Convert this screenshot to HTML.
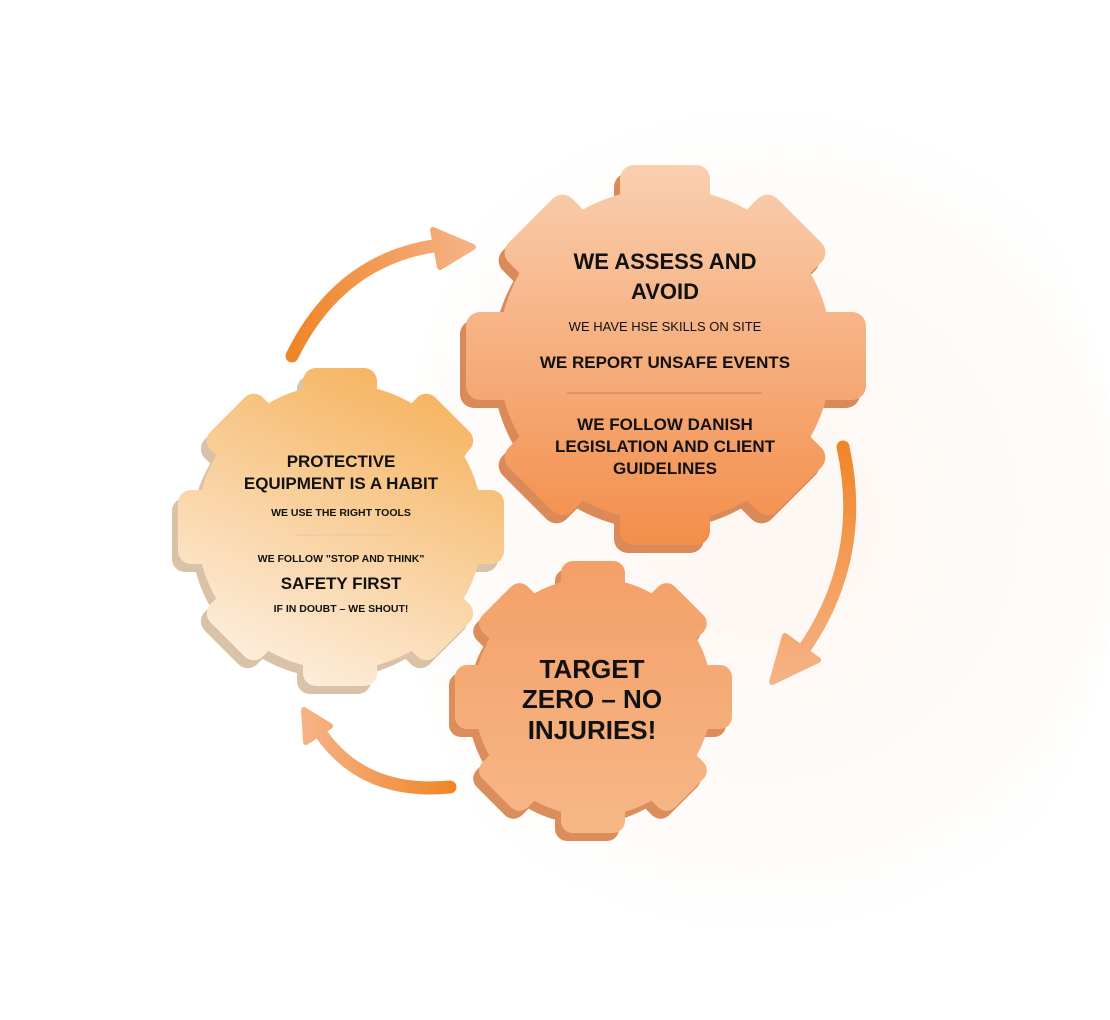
<!DOCTYPE html>
<html><head><meta charset="utf-8"><style>
html,body{margin:0;padding:0;background:#fff;}
svg{display:block}
text{font-family:"Liberation Sans",sans-serif;font-weight:bold;fill:#111;text-anchor:middle}
</style></head><body>
<svg width="1110" height="1020" viewBox="0 0 1110 1020">
<defs>
<radialGradient id="bg" cx="760" cy="520" r="420" gradientUnits="userSpaceOnUse">
<stop offset="0" stop-color="#fef7f2"/><stop offset="0.7" stop-color="#fefbf9"/><stop offset="1" stop-color="#ffffff"/></radialGradient>
<linearGradient id="g1" x1="0" y1="165" x2="0" y2="555" gradientUnits="userSpaceOnUse">
<stop offset="0" stop-color="#f9cfb0"/><stop offset="1" stop-color="#f38c48"/></linearGradient>
<linearGradient id="g2" x1="440" y1="380" x2="300" y2="690" gradientUnits="userSpaceOnUse">
<stop offset="0" stop-color="#f5b25c"/><stop offset="1" stop-color="#fdeedd"/></linearGradient>
<linearGradient id="g3" x1="0" y1="565" x2="0" y2="840" gradientUnits="userSpaceOnUse">
<stop offset="0" stop-color="#f4a068"/><stop offset="1" stop-color="#f6b888"/></linearGradient>
<linearGradient id="a1" x1="290" y1="0" x2="475" y2="0" gradientUnits="userSpaceOnUse">
<stop offset="0" stop-color="#ef8526"/><stop offset="1" stop-color="#f6b48a"/></linearGradient>
<linearGradient id="a2" x1="0" y1="440" x2="0" y2="690" gradientUnits="userSpaceOnUse">
<stop offset="0" stop-color="#ef8526"/><stop offset="1" stop-color="#f6b48a"/></linearGradient>
<linearGradient id="a3" x1="455" y1="0" x2="300" y2="0" gradientUnits="userSpaceOnUse">
<stop offset="0" stop-color="#ef8526"/><stop offset="1" stop-color="#f6b48a"/></linearGradient>

<g id="s1" fill="#fff">
<circle cx="665" cy="355" r="167"/>
<rect x="620" y="165" width="90" height="380" rx="14"/>
<rect x="620" y="165" width="90" height="380" rx="14" transform="rotate(45 665 355)"/>
<rect x="466" y="312" width="400" height="88" rx="14"/>
<rect x="620" y="165" width="90" height="380" rx="14" transform="rotate(135 665 355)"/>
</g>
<g id="s2" fill="#fff">
<circle cx="340" cy="527" r="143"/>
<rect x="303" y="368" width="74" height="318" rx="13"/>
<rect x="303" y="368" width="74" height="318" rx="13" transform="rotate(45 340 527)"/>
<rect x="178" y="490" width="326" height="74" rx="13"/>
<rect x="303" y="368" width="74" height="318" rx="13" transform="rotate(135 340 527)"/>
</g>
<g id="s3" fill="#fff">
<circle cx="593" cy="697" r="119"/>
<rect x="561" y="561" width="64" height="272" rx="12"/>
<rect x="561" y="561" width="64" height="272" rx="12" transform="rotate(45 593 697)"/>
<rect x="455" y="665" width="277" height="64" rx="12"/>
<rect x="561" y="561" width="64" height="272" rx="12" transform="rotate(135 593 697)"/>
</g>
<mask id="m1" maskUnits="userSpaceOnUse" x="0" y="0" width="1110" height="1020"><use href="#s1"/></mask>
<mask id="m2" maskUnits="userSpaceOnUse" x="0" y="0" width="1110" height="1020"><use href="#s2"/></mask>
<mask id="m3" maskUnits="userSpaceOnUse" x="0" y="0" width="1110" height="1020"><use href="#s3"/></mask>
</defs>
<rect width="1110" height="1020" fill="#fff"/>
<ellipse cx="760" cy="520" rx="360" ry="480" fill="url(#bg)"/>

<g transform="translate(-6,8)"><rect width="1110" height="1020" fill="#d98a58" mask="url(#m1)"/></g>
<rect width="1110" height="1020" fill="url(#g1)" mask="url(#m1)"/>

<g transform="translate(-6,8)"><rect width="1110" height="1020" fill="#d9c2a8" mask="url(#m2)"/></g>
<rect width="1110" height="1020" fill="url(#g2)" mask="url(#m2)"/>

<g transform="translate(-6,8)"><rect width="1110" height="1020" fill="#dc8d5c" mask="url(#m3)"/></g>
<rect width="1110" height="1020" fill="url(#g3)" mask="url(#m3)"/>

<path d="M292 356 Q340 258 440 245" fill="none" stroke="url(#a1)" stroke-width="13" stroke-linecap="round"/>
<path d="M433 230 L473 247 L440 267 Z" fill="url(#a1)" stroke="url(#a1)" stroke-width="6" stroke-linejoin="round"/>
<path d="M843 447 Q868 560 800 655" fill="none" stroke="url(#a2)" stroke-width="13" stroke-linecap="round"/>
<path d="M785 636 L818 660 L772 682 Z" fill="url(#a2)" stroke="url(#a2)" stroke-width="6" stroke-linejoin="round"/>
<path d="M450 787 Q365 795 322 735" fill="none" stroke="url(#a3)" stroke-width="13" stroke-linecap="round"/>
<path d="M304 710 L330 726 L306 742 Z" fill="url(#a3)" stroke="url(#a3)" stroke-width="6" stroke-linejoin="round"/>

<text x="665" y="269" font-size="22">WE ASSESS AND</text>
<text x="665" y="299" font-size="22">AVOID</text>
<text x="665" y="331" font-size="13" style="font-weight:normal">WE HAVE HSE SKILLS ON SITE</text>
<text x="665" y="368" font-size="17">WE REPORT UNSAFE EVENTS</text>
<line x1="567" y1="393" x2="762" y2="393" stroke="#c98a66" stroke-width="1.2"/>
<text x="665" y="430" font-size="17">WE FOLLOW DANISH</text>
<text x="665" y="452" font-size="17">LEGISLATION AND CLIENT</text>
<text x="665" y="474" font-size="17">GUIDELINES</text>

<text x="341" y="467" font-size="17">PROTECTIVE</text>
<text x="341" y="489" font-size="17">EQUIPMENT IS A HABIT</text>
<text x="341" y="516" font-size="10.5">WE USE THE RIGHT TOOLS</text>
<line x1="295" y1="535" x2="390" y2="535" stroke="#e3c8a4" stroke-width="1"/>
<text x="341" y="562" font-size="10.5">WE FOLLOW "STOP AND THINK"</text>
<text x="341" y="589" font-size="17">SAFETY FIRST</text>
<text x="341" y="612" font-size="10.5">IF IN DOUBT – WE SHOUT!</text>

<text x="592" y="678" font-size="26">TARGET</text>
<text x="592" y="708" font-size="26">ZERO – NO</text>
<text x="592" y="739" font-size="26">INJURIES!</text>
</svg>
</body></html>
